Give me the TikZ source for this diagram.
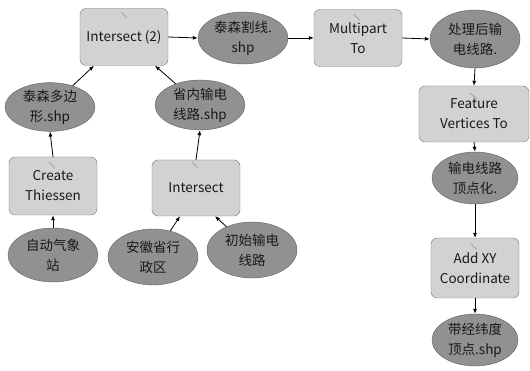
\documentclass[tikz,border=0pt]{standalone}
\usepackage{fontspec}
\setmainfont{Noto Sans CJK SC}
\usetikzlibrary{shapes.geometric,arrows.meta}
\definecolor{boxfill}{RGB}{210,210,210}
\definecolor{boxline}{RGB}{120,120,120}
\definecolor{elfill}{RGB}{145,145,145}
\definecolor{elline}{RGB}{95,95,95}
\definecolor{txt}{RGB}{25,25,25}
\tikzset{
  tool/.style={draw=boxline, fill=boxfill, rounded corners=6pt, minimum width=#1, align=center, text=txt, font=\fontsize{13.5}{20}\selectfont, inner sep=1pt},
  tool/.default=88pt,
  data/.style={ellipse, draw=elline, fill=elfill, minimum width=90pt, minimum height=52pt, align=center, text=txt, font=\fontsize{13.5}{20}\selectfont, inner sep=0pt},
  link/.style={-{Latex[length=5pt,width=4pt]}, line width=0.8pt, black},
  hammer/.style={draw=gray!70, line width=1pt}
}
\begin{document}
\begin{tikzpicture}[x=1pt,y=-1pt]
\useasboundingbox (0,0) rectangle (530,371);
% process boxes
\node[tool, minimum height=57pt] (i2) at (124,37) {Intersect (2)};
\node[tool, minimum height=57pt] (mp) at (358,38) {Multipart\\To};
\node[tool=110pt, minimum height=56pt] (fv) at (474,114) {Feature\\Vertices To};
\node[tool, minimum height=60pt] (ax) at (475,268) {Add XY\\Coordinate};
\node[tool, minimum height=58pt] (ct) at (53,186) {Create\\Thiessen};
\node[tool, minimum height=56pt] (is) at (196,188) {Intersect};
% data ellipses
\node[data] (tg) at (243,38) {泰森割线.\\shp};
\node[data, minimum height=58pt] (cl) at (475,39) {处理后输\\电线路.};
\node[data, minimum width=86pt] (dv) at (475,178) {输电线路\\顶点化.};
\node[data, minimum width=86pt] (jw) at (475,340) {带经纬度\\顶点.shp};
\node[data, minimum height=48pt] (ty) at (50,107) {泰森多边\\形.shp};
\node[data, minimum height=50pt] (sn) at (200,105) {省内输电\\线路.shp};
\node[data, minimum height=54pt] (zd) at (53,255) {自动气象\\站};
\node[data, minimum height=56pt] (ah) at (153,257) {安徽省行\\政区};
\node[data, minimum height=56pt] (cs) at (252,250) {初始输电\\线路};
% hammer marks
\draw[hammer] (121,12) -- (127,18);
\draw[hammer] (354,15) -- (360,20);
\draw[hammer] (470,93) -- (477,99);
\draw[hammer] (471,244) -- (477,250);
\draw[hammer] (49,162) -- (55,168);
\draw[hammer] (192,162) -- (198,168);
% connectors
\draw[link] (zd.north) -- (ct.south);
\draw[link] (ct.north) -- (ty.south);
\draw[link] (ty) -- (i2.south west -| 94,0) ;
\draw[link] (sn) -- (i2.south east -| 155,0);
\draw[link] (is.north) -- (sn.south);
\draw[link] (ah) -- (is.south west -| 180,0);
\draw[link] (cs) -- (is.south east -| 215,0);
\draw[link] (i2.east) -- (tg.west);
\draw[link] (tg.east) -- (mp.west);
\draw[link] (mp.east) -- (cl.west);
\draw[link] (cl.south) -- (fv.north);
\draw[link] (fv.south) -- (dv.north);
\draw[link] (dv.south) -- (ax.north);
\draw[link] (ax.south) -- (jw.north);
\end{tikzpicture}
\end{document}
